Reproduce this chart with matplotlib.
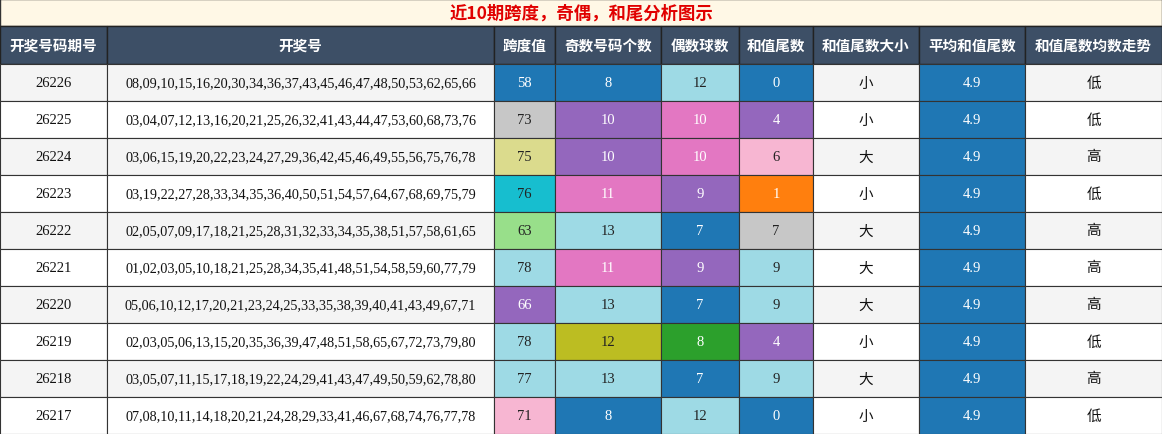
import matplotlib
matplotlib.use("Agg")
import matplotlib.pyplot as plt
from matplotlib.patches import Rectangle

title = "近10期跨度，奇偶，和尾分析图示"
headers = ["开奖号码期号", "开奖号", "跨度值", "奇数号码个数", "偶数球数", "和值尾数", "和值尾数大小", "平均和值尾数", "和值尾数均数走势"]
periods = ["26226","26225","26224","26223","26222","26221","26220","26219","26218","26217"]
numbers = [
"08,09,10,15,16,20,30,34,36,37,43,45,46,47,48,50,53,62,65,66",
"03,04,07,12,13,16,20,21,25,26,32,41,43,44,47,53,60,68,73,76",
"03,06,15,19,20,22,23,24,27,29,36,42,45,46,49,55,56,75,76,78",
"03,19,22,27,28,33,34,35,36,40,50,51,54,57,64,67,68,69,75,79",
"02,05,07,09,17,18,21,25,28,31,32,33,34,35,38,51,57,58,61,65",
"01,02,03,05,10,18,21,25,28,34,35,41,48,51,54,58,59,60,77,79",
"05,06,10,12,17,20,21,23,24,25,33,35,38,39,40,41,43,49,67,71",
"02,03,05,06,13,15,20,35,36,39,47,48,51,58,65,67,72,73,79,80",
"03,05,07,11,15,17,18,19,22,24,29,41,43,47,49,50,59,62,78,80",
"07,08,10,11,14,18,20,21,24,28,29,33,41,46,67,68,74,76,77,78",
]
spans = [58,73,75,76,63,78,66,78,77,71]
odds = [8,10,10,11,13,11,13,12,13,8]
evens = [12,10,10,9,7,9,7,8,7,12]
tails = [0,4,6,1,7,9,9,4,9,0]
sizes = ["小","小","大","小","大","大","大","小","大","小"]
avgs = [4.9]*10
trends = ["低","低","高","低","高","高","高","低","高","低"]

span_col = {58:"#1f77b4",73:"#c7c7c7",75:"#dbdb8d",76:"#17becf",63:"#98df8a",78:"#9edae5",66:"#9467bd",77:"#9edae5",71:"#f7b6d2"}
odd_col = {8:"#1f77b4",10:"#9467bd",11:"#e377c2",13:"#9edae5",12:"#bcbd22"}
even_col = {12:"#9edae5",10:"#e377c2",9:"#9467bd",7:"#1f77b4",8:"#2ca02c"}
tail_col = {0:"#1f77b4",4:"#9467bd",6:"#f7b6d2",1:"#ff7f0e",7:"#c7c7c7",9:"#9edae5"}
dark = {"#1f77b4","#9467bd","#e377c2","#ff7f0e","#2ca02c"}

xs = [0,107,494,555,661,739,813,919,1025,1162]
W, H = 1162, 435
y_title, y_head = 27, 65
rh = (H - y_head) / 10

fig = plt.figure(figsize=(11.62,4.35), dpi=100)
ax = fig.add_axes([0,0,1,1])
ax.set_xlim(0,W); ax.set_ylim(H,0); ax.axis("off")
cjk = ["Noto Sans CJK SC","DejaVu Sans"]
serif = ["Liberation Serif","DejaVu Serif"]

ax.add_patch(Rectangle((0,0),W,y_title,fc="#fff8e6",ec="#333",lw=1))
ax.text(W/2,y_title/2,title,color="#e00000",fontsize=12.5,fontweight="bold",ha="center",va="center",family=cjk)
for i,h in enumerate(headers):
    ax.add_patch(Rectangle((xs[i],y_title),xs[i+1]-xs[i],y_head-y_title,fc="#3d4f66",ec="#222",lw=1))
    ax.text((xs[i]+xs[i+1])/2,(y_title+y_head)/2,h,color="white",fontsize=10.5,fontweight="bold",ha="center",va="center",family=cjk)

for r in range(10):
    y0 = y_head + r*rh
    base = "#f4f4f4" if r%2==0 else "white"
    cells = [
        (periods[r], base, "#111", serif),
        (numbers[r], base, "#111", serif),
        (str(spans[r]), span_col[spans[r]], None, serif),
        (str(odds[r]), odd_col[odds[r]], None, serif),
        (str(evens[r]), even_col[evens[r]], None, serif),
        (str(tails[r]), tail_col[tails[r]], None, serif),
        (sizes[r], base, "#111", cjk),
        (str(avgs[r]), "#1f77b4", None, serif),
        (trends[r], base, "#111", cjk),
    ]
    for c,(t,fc,tc,fam) in enumerate(cells):
        if tc is None:
            tc = "white" if fc in dark else "#222"
        ax.add_patch(Rectangle((xs[c],y0),xs[c+1]-xs[c],rh,fc=fc,ec="#333",lw=0.8))
        ax.text((xs[c]+xs[c+1])/2,y0+rh/2,t,color=tc,fontsize=10.5 if c!=1 else 10.2,ha="center",va="center",family=fam)

fig.savefig("out.png",dpi=100)
